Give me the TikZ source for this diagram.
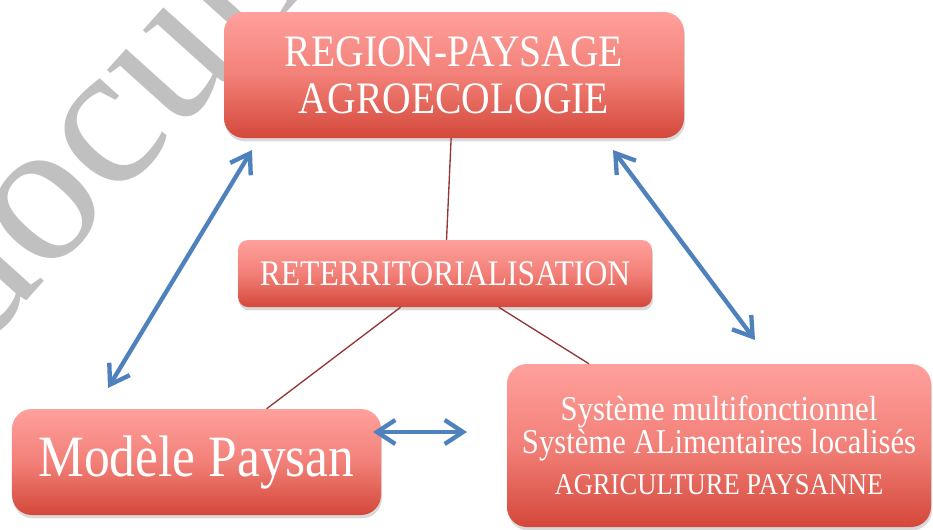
\documentclass[tikz,border=0pt]{standalone}
\usepackage{fontspec}
\setmainfont{Liberation Serif}[FakeStretch=0.88]
\newfontfamily\wmfont{Liberation Serif}
\usepackage{tikz}
\usetikzlibrary{arrows.meta,shadows}

\definecolor{boxtop}{RGB}{255,160,156}
\definecolor{boxmid}{RGB}{242,128,120}
\definecolor{boxbot}{RGB}{212,72,58}
\definecolor{linkred}{RGB}{148,54,52}
\definecolor{arrowblue}{RGB}{79,129,189}
\definecolor{wmgray}{RGB}{192,192,192}

\begin{document}
\begin{tikzpicture}[
    box/.style={rounded corners=0.6cm,top color=boxtop,bottom color=boxbot,middle color=boxmid,
      text=white,align=center,inner sep=0pt,
      drop shadow={shadow xshift=0.03cm,shadow yshift=-0.1cm,opacity=0.3}},
    link/.style={draw=linkred,line width=0.04cm},
    fleche/.style={<->,draw=arrowblue,line width=0.13cm},
    >={Straight Barb[length=0.55cm,width=0.72cm]}]
      \useasboundingbox (0,0) rectangle (27.99,-15.87);
      \clip (0,0) rectangle (27.99,-15.87);
      %% filigrane
      \node[text=wmgray,rotate=48,font=\wmfont\fontsize{175pt}{175pt}\selectfont] (wm) at (5.88,-0.24) {document};

      \node[box,minimum width=13.8cm,minimum height=3.78cm,font=\fontsize{38.4pt}{40pt}\selectfont] (1) at (13.62,-2.25) {REGION-PAYSAGE\\AGROECOLOGIE};
      \node[box,below of=1,xshift=-0.27cm,yshift=-4.955cm,rounded corners=0.3cm,minimum width=12.42cm,minimum height=2.01cm,font=\fontsize{30.7pt}{32pt}\selectfont] (2) {RETERRITORIALISATION};
      \node[box,below of=2,xshift=-7.455cm,yshift=-4.655cm,minimum width=11.07cm,minimum height=3.18cm,font=\fontsize{50pt}{50pt}\selectfont] (3) {Modèle Paysan};
      \node[box,right of=3,xshift=14.675cm,yshift=0.495cm,minimum width=12.72cm,minimum height=4.89cm,font=\fontsize{29.8pt}{26.5pt}\selectfont] (4) {Système multifonctionnel\\Système ALimentaires localisés\\[9pt]{\fontsize{25.8pt}{26.5pt}\selectfont AGRICULTURE PAYSANNE}};

      \draw[link] (1) -- (2);
      \draw[link] (2) -- (3);
      \draw[link] (2) -- (4);

      %% fleches
      \coordinate (a) at (7.56,-4.5);
      \coordinate (b) at (3.24,-11.64);
      \coordinate (c) at (18.39,-4.5);
      \coordinate (d) at (22.65,-10.2);
      \coordinate (e) at (11.19,-12.96);
      \coordinate (f) at (14.01,-12.96);
      \draw[fleche] (b) -- (a);
      \draw[fleche] (c) -- (d);
      \draw[fleche] (e) -- (f);
    \end{tikzpicture}
\end{document}
